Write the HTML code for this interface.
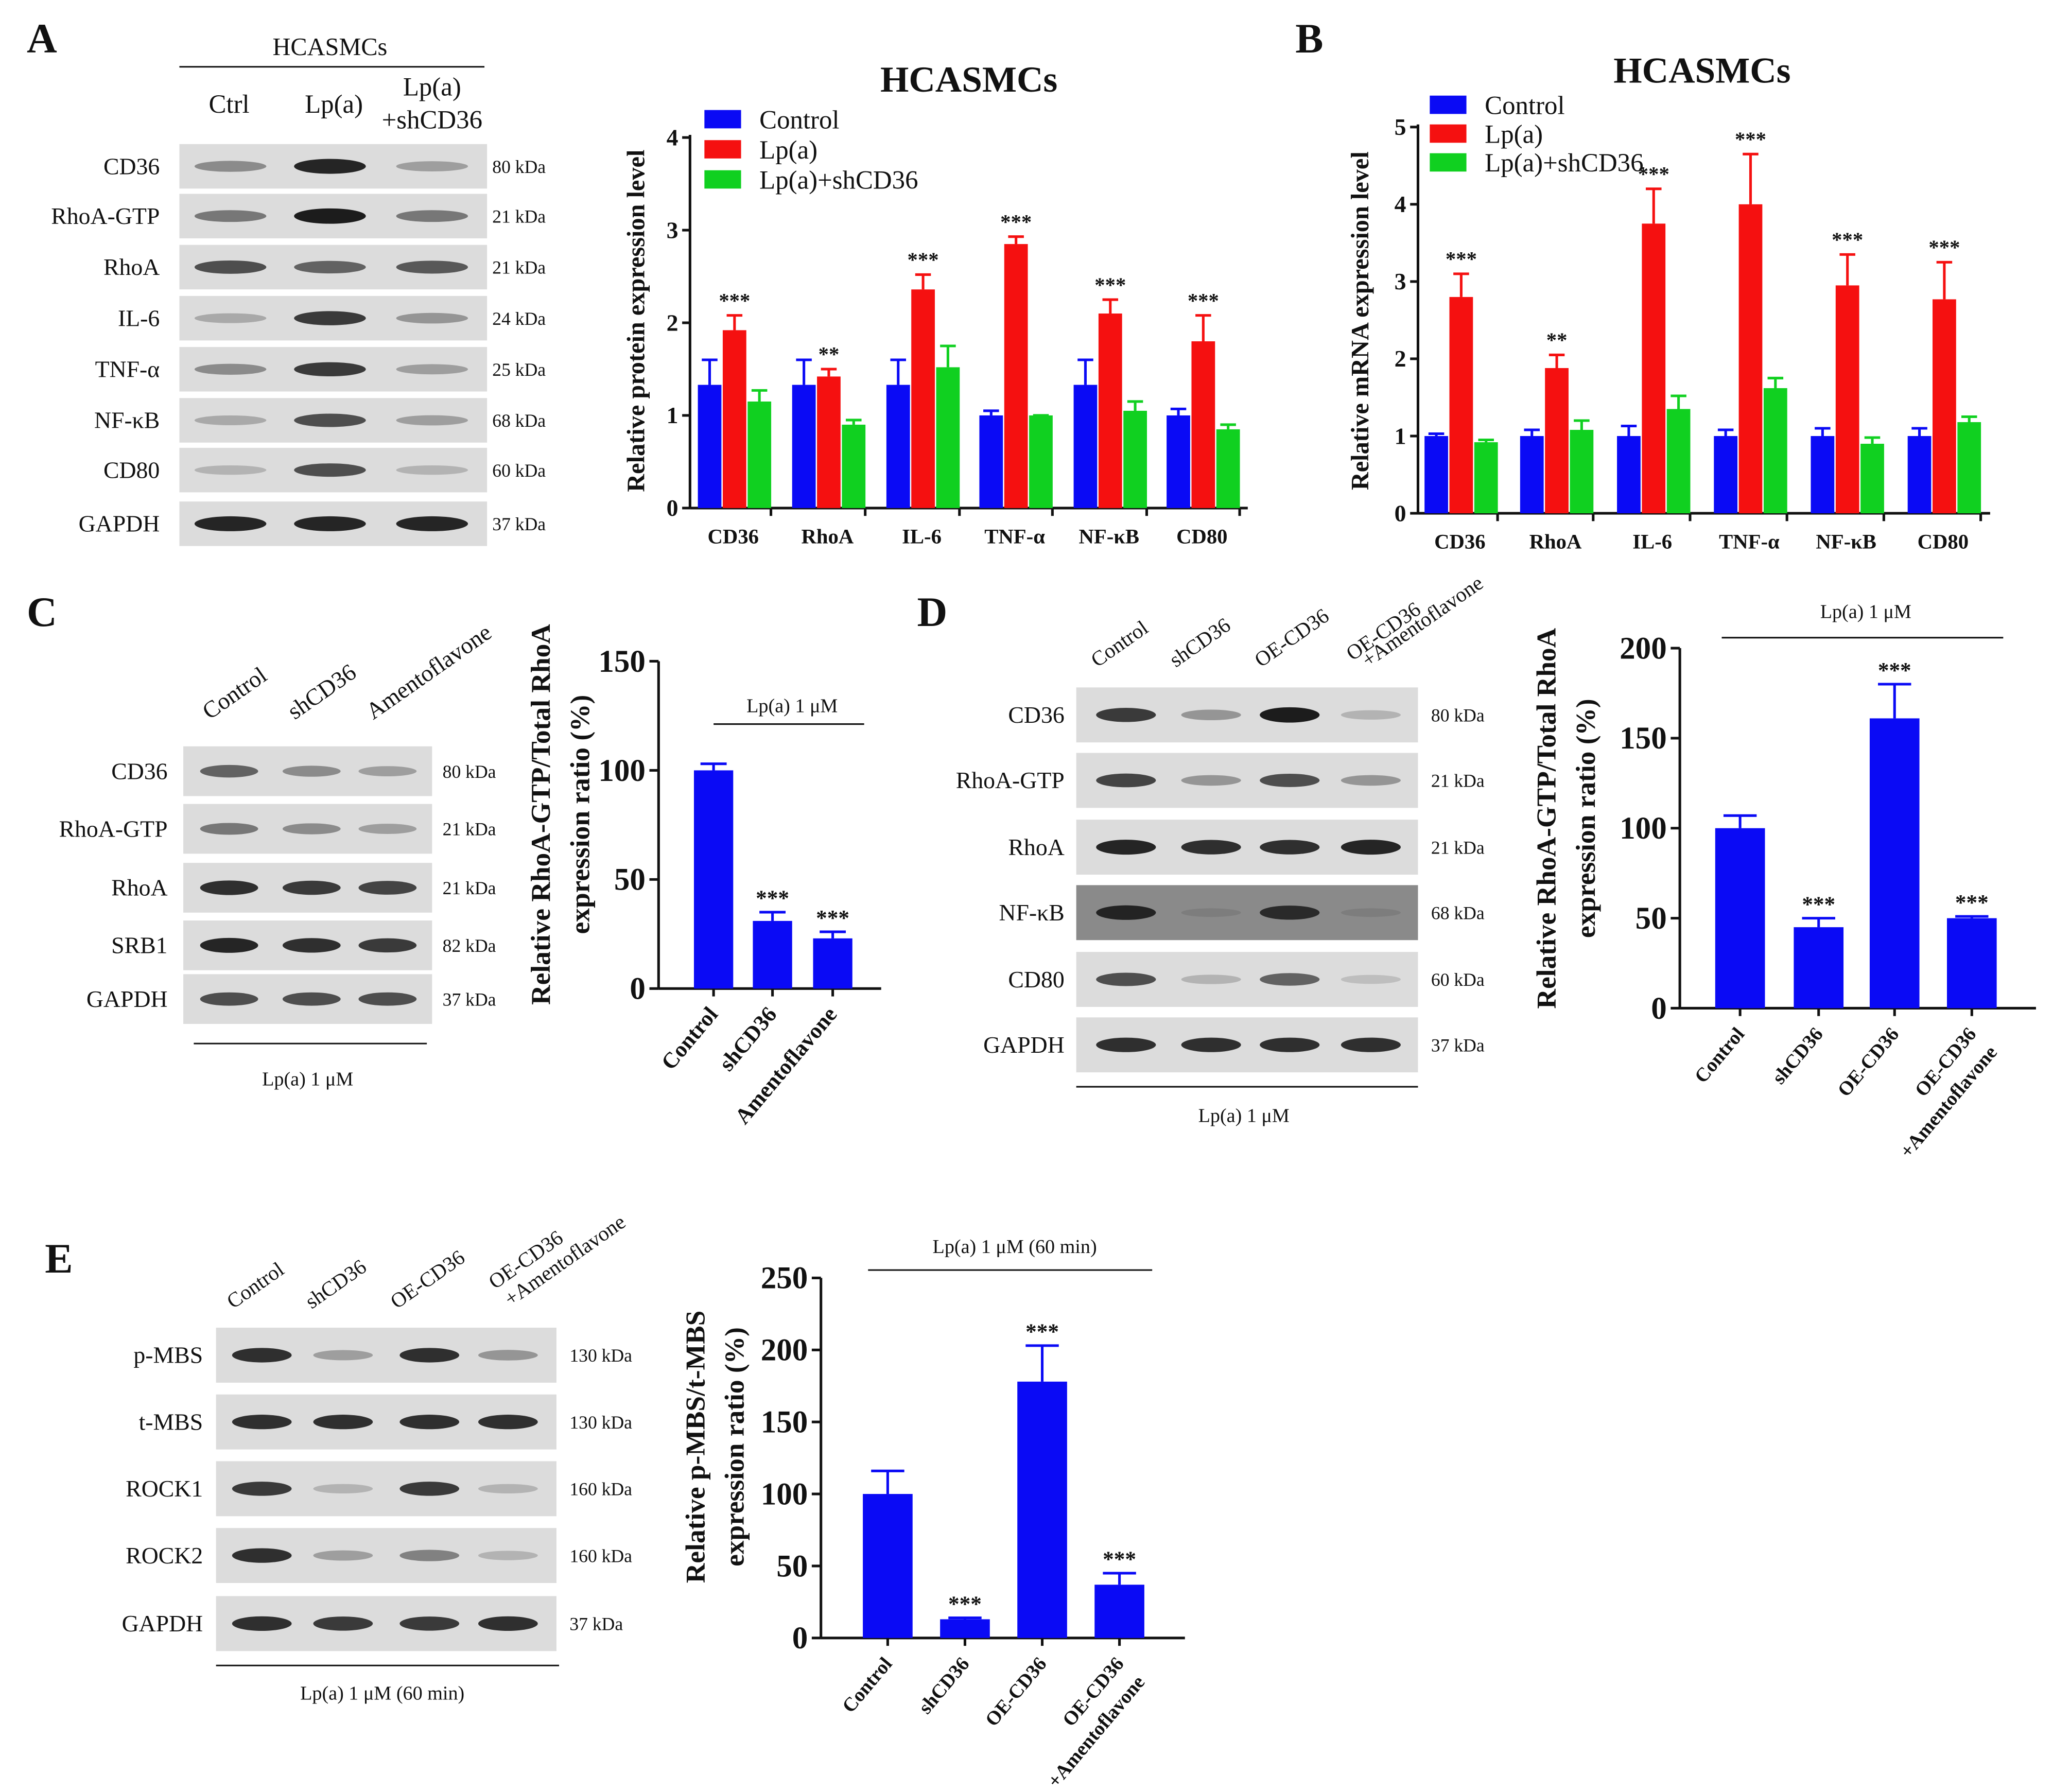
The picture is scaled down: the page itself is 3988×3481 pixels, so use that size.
<!DOCTYPE html>
<html><head><meta charset="utf-8">
<style>
html,body{margin:0;padding:0;background:#fff;}
svg{display:block;font-family:"Liberation Serif",serif;}
</style></head>
<body>
<svg id="fig" width="3988" height="3481" viewBox="0 0 1568 1368.6" xmlns="http://www.w3.org/2000/svg">
<rect width="1568" height="1369" fill="#fff"/>
</svg>
<script>
// ---------- Data ----------
const catsAB = ["CD36","RhoA","IL-6","TNF-α","NF-κB","CD80"];
const aCtrl = [1.33,1.33,1.33,1.0,1.33,1.0];
const aCtrlErr = [1.6,1.6,1.6,1.05,1.6,1.07];
const aLp = [1.92,1.42,2.36,2.85,2.1,1.8];
const aLpErr = [2.08,1.5,2.52,2.93,2.25,2.08];
const aSh = [1.15,0.9,1.52,1.0,1.05,0.85];
const aShErr = [1.27,0.95,1.75,1.0,1.15,0.9];
const aStars = ["***","**","***","***","***","***"];
const aTicks = [0,1,2,3,4];
const bCtrl = [1,1,1,1,1,1];
const bCtrlErr = [1.03,1.08,1.13,1.08,1.1,1.1];
const bLp = [2.8,1.88,3.75,4.0,2.95,2.77];
const bLpErr = [3.1,2.05,4.2,4.65,3.35,3.25];
const bSh = [0.92,1.08,1.35,1.62,0.9,1.18];
const bShErr = [0.95,1.2,1.52,1.75,0.98,1.25];
const bStars = ["***","**","***","***","***","***"];
const bTicks = [0,1,2,3,4,5];
const cCats = ["Control","shCD36","Amentoflavone"];
const cVals = [100,31,23];
const cErr = [103,35,26];
const cStars = ["","***","***"];
const cTicks = [0,50,100,150];
const dCats = ["Control","shCD36","OE-CD36","OE-CD36|+Amentoflavone"];
const dVals = [100,45,161,50];
const dErr = [107,50,180,51];
const dStars = ["","***","***","***"];
const dTicks = [0,50,100,150,200];
const eVals = [100,13,178,37];
const eErr = [116,14,203,45];
const eStars = ["","***","***","***"];
const eTicks = [0,50,100,150,200,250];

const NS="http://www.w3.org/2000/svg";
const svg=document.getElementById('fig');
function el(tag,attrs,parent,text){const e=document.createElementNS(NS,tag);for(const k in attrs)e.setAttribute(k,attrs[k]);if(text!==undefined)e.textContent=text;(parent||svg).appendChild(e);return e;}
function txt(x,y,s,size,opts,parent){opts=opts||{};const t=el('text',{x:x,y:y,'font-size':size,'text-anchor':opts.anchor||'middle','font-weight':opts.bold?'bold':'normal',fill:'#111'},parent,s);if(opts.rot!==undefined)t.setAttribute('transform','rotate('+opts.rot+' '+x+' '+y+')');return t;}
function line(x1,y1,x2,y2,w,parent){return el('line',{x1:x1,y1:y1,x2:x2,y2:y2,stroke:'#111','stroke-width':w||1.5},parent);}

// panel letters
[["A",32,40],["B",1000,40],["C",32,478],["D",712,478],["E",45,972]].forEach(p=>{
 const t=txt(p[1],p[2],p[0],32,{bold:true});
 
 
});

// ---------- grouped chart ----------
function grouped(name,ax,ay0,ayTop,ymax,axEnd,centers,ticks,series,errs,stars,bw){
 const g=el('g',{});
 
 
 const Y=v=>ay0-(v/ymax)*(ay0-ayTop);
 line(ax,ay0,ax,ayTop-2,2,g);line(ax,ay0,axEnd,ay0,2,g);
 ticks.forEach(t=>{line(ax-6,Y(t),ax,Y(t),2,g);const l=txt(ax-9,Y(t)+6,String(t),18,{anchor:'end',bold:true},g);
  });
 const cols=['#0a0af5','#f51010','#10d020'];
 centers.forEach((c,i)=>{
  line(c+bw*1.6,ay0,c+bw*1.6,ay0+6,2,g);
  const lab=txt(c,ay0+27,catsAB[i],16,{bold:true},g);
  
  series.forEach((s,k)=>{
   const x=c-bw*1.5+k*(bw+1)+ (k-1)*0;
   const r=el('rect',{x:x,y:Y(s[i]),width:bw,height:ay0-Y(s[i]),fill:cols[k]},g);
   
   const xm=x+bw/2;const et=Y(errs[k][i]);
   el('line',{x1:xm,y1:Y(s[i]),x2:xm,y2:et,stroke:cols[k],'stroke-width':2},g);
   el('line',{x1:xm-6,y1:et,x2:xm+6,y2:et,stroke:cols[k],'stroke-width':2},g);
   if(k==1){const st=txt(xm,et-6,stars[i],16,{bold:true},g);}
  });
 });
 return g;
}
grouped('chart-a-protein',527,388,105,4,953,[560,632,704,775,847,918],aTicks,[aCtrl,aLp,aSh],[aCtrlErr,aLpErr,aShErr],aStars,18);
grouped('chart-b-mrna',1083,392,97,5,1520,[1115,1188,1262,1336,1410,1484],bTicks,[bCtrl,bLp,bSh],[bCtrlErr,bLpErr,bShErr],bStars,18);
txt(740,70,"HCASMCs",28,{bold:true});
txt(1300,63,"HCASMCs",28,{bold:true});
txt(492,245,"Relative protein expression level",19,{bold:true,rot:-90});
txt(1045,245,"Relative mRNA expression level",19,{bold:true,rot:-90});
function legend(x,y,gap,size){const names=["Control","Lp(a)","Lp(a)+shCD36"];const cols=['#0a0af5','#f51010','#10d020'];
 names.forEach((n,i)=>{const r=el('rect',{x:x,y:y+i*gap-7,width:28,height:14,fill:cols[i]});
 const t=txt(x+42,y+i*gap+7,n,20,{anchor:'start'});});}
legend(538,91,23);legend(1092,80,22);

// ---------- single charts ----------
function single(name,ax,ay0,ayTop,ymax,axEnd,centers,ticks,vals,errs,stars,bw,labels,labSize){
 const g=el('g',{});
 
 
 const Y=v=>ay0-(v/ymax)*(ay0-ayTop);
 line(ax,ay0,ax,ayTop,2,g);line(ax,ay0,axEnd,ay0,2,g);
 ticks.forEach(t=>{line(ax-7,Y(t),ax,Y(t),2,g);const l=txt(ax-10,Y(t)+8,String(t),24,{anchor:'end',bold:true},g);
  });
 centers.forEach((c,i)=>{
  const r=el('rect',{x:c-bw/2,y:Y(vals[i]),width:bw,height:ay0-Y(vals[i]),fill:'#0a0af5'},g);
  
  const et=Y(errs[i]);
  el('line',{x1:c,y1:Y(vals[i]),x2:c,y2:et,stroke:'#0a0af5','stroke-width':2},g);
  el('line',{x1:c-bw/3,y1:et,x2:c+bw/3,y2:et,stroke:'#0a0af5','stroke-width':2},g);
  if(stars[i]){const st=txt(c,et-5,stars[i],17,{bold:true},g);}
  line(c,ay0,c,ay0+6,2,g);
  const parts=labels[i].split('|');
  parts.forEach((p,j)=>{const lx=c+4+j*16,ly=ay0+20+j*14;const t=txt(lx,ly,p,labSize,{anchor:'end',bold:true,rot:-50},g);
   });
 });
}
single('chart-c',503,755,505,150,673,[545,590,636],cTicks,cVals,cErr,cStars,30,cCats,17);
line(545,553,660,553,1.2);txt(605,544,"Lp(a) 1 μM",15);
txt(420,622,"Relative RhoA-GTP/Total RhoA",21,{bold:true,rot:-90});
txt(450,622,"expression ratio (%)",21,{bold:true,rot:-90});
single('chart-d',1283,770,495,200,1555,[1329,1389,1447,1506],dTicks,dVals,dErr,dStars,38,dCats,15);
line(1315,487,1530,487,1.2);txt(1425,472,"Lp(a) 1 μM",15);
txt(1188,625,"Relative RhoA-GTP/Total RhoA",21,{bold:true,rot:-90});
txt(1218,625,"expression ratio (%)",21,{bold:true,rot:-90});
single('chart-e',627,1251,976,250,905,[678,737,796,855],eTicks,eVals,eErr,eStars,38,dCats,15);
line(663,970,880,970,1.2);txt(775,957,"Lp(a) 1 μM  (60 min)",15);
txt(538,1105,"Relative p-MBS/t-MBS",21,{bold:true,rot:-90});
txt(568,1105,"expression ratio (%)",21,{bold:true,rot:-90});

// ---------- blots ----------
function blot(name,x0,x1,rows,h,lanes,labels,kda,intens,labX,kX,size,bgs){
 const g=el('g',{});
 
 
 rows.forEach((y,i)=>{
  el('rect',{x:x0,y:y-h/2,width:x1-x0,height:h,fill:bgs&&bgs[i]?bgs[i]:'#dcdcdc'},g);
  lanes.forEach((lx,j)=>{const a=intens[i][j];const w=(x1-x0)/lanes.length*0.7;
   const b=el('ellipse',{cx:lx,cy:y,rx:w/2,ry:3+a*3,fill:'#111','fill-opacity':a},g);
   });
  const l=txt(labX,y+6,labels[i],size,{anchor:'end'},g);
  txt(kX,y+5,kda[i],size-4,{anchor:'start'},g);
 });
}
blot('blot-a',137,372,[127,165,204,243,282,321,359,400],34,[176,252,330],
 ["CD36","RhoA-GTP","RhoA","IL-6","TNF-α","NF-κB","CD80","GAPDH"],
 ["80 kDa","21 kDa","21 kDa","24 kDa","25 kDa","68 kDa","60 kDa","37 kDa"],
 [[.4,.9,.3],[.5,.95,.5],[.7,.6,.65],[.25,.8,.35],[.4,.8,.3],[.25,.7,.3],[.2,.7,.2],[.9,.9,.9]],122,376,18);
txt(252,42,"HCASMCs",19);line(137,51,370,51,1.2);
txt(175,86,"Ctrl",20);txt(255,86,"Lp(a)",20);txt(330,73,"Lp(a)",20);txt(330,98,"+shCD36",20);

blot('blot-c',140,330,[589,633,678,722,763],38,[175,238,296],
 ["CD36","RhoA-GTP","RhoA","SRB1","GAPDH"],["80 kDa","21 kDa","21 kDa","82 kDa","37 kDa"],
 [[.6,.4,.3],[.5,.4,.3],[.85,.8,.75],[.9,.85,.8],[.7,.7,.7]],128,338,18);
[["Control",175],["shCD36",240],["Amentoflavone",300]].forEach(p=>txt(p[1]-15,550,p[0],18,{anchor:'start',rot:-35}));
line(148,797,326,797,1.2);txt(235,829,"Lp(a) 1 μM",15);

blot('blot-d',822,1083,[546,596,647,697,748,798],42,[860,925,985,1047],
 ["CD36","RhoA-GTP","RhoA","NF-κB","CD80","GAPDH"],["80 kDa","21 kDa","21 kDa","68 kDa","60 kDa","37 kDa"],
 [[.8,.35,.95,.2],[.75,.35,.7,.35],[.9,.85,.85,.9],[.85,.1,.8,.1],[.7,.2,.6,.15],[.85,.85,.85,.85]],813,1093,18,
 [null,null,null,'#8a8a8a',null,null]);
[["Control",850],["shCD36",910],["OE-CD36",975]].forEach(p=>txt(p[1]-12,510,p[0],16,{anchor:'start',rot:-35}));
txt(1033,505,"OE-CD36",16,{anchor:'start',rot:-35});txt(1045,510,"+Amentoflavone",16,{anchor:'start',rot:-35});
line(822,830,1083,830,1.2);txt(950,857,"Lp(a) 1 μM",15);

blot('blot-e',165,425,[1035,1086,1137,1188,1240],42,[200,262,328,388],
 ["p-MBS","t-MBS","ROCK1","ROCK2","GAPDH"],["130 kDa","130 kDa","160 kDa","160 kDa","37 kDa"],
 [[.85,.3,.85,.35],[.85,.85,.85,.85],[.8,.2,.8,.2],[.85,.3,.45,.2],[.85,.8,.8,.85]],155,435,18);
[["Control",190],["shCD36",250],["OE-CD36",315]].forEach(p=>txt(p[1]-12,1000,p[0],16,{anchor:'start',rot:-35}));
txt(378,985,"OE-CD36",16,{anchor:'start',rot:-35});txt(390,998,"+Amentoflavone",16,{anchor:'start',rot:-35});
line(165,1272,427,1272,1.2);txt(292,1298,"Lp(a) 1 μM  (60 min)",15);
</script>
</body></html>
